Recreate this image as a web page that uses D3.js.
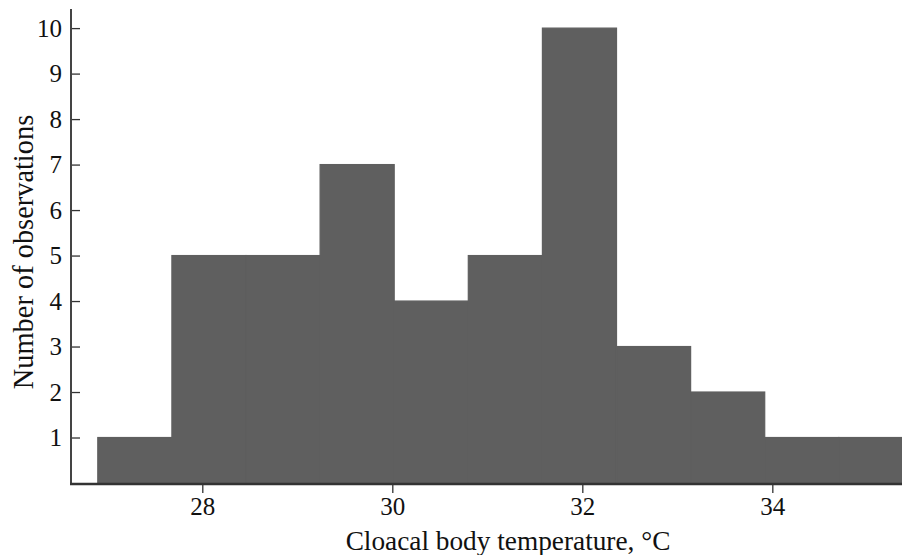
<!DOCTYPE html>
<html><head><meta charset="utf-8">
<script src="https://cdn.jsdelivr.net/npm/d3@7"></script>
<style>body{margin:0;background:#fff}svg{display:block}</style>
</head><body>
<script>
const binEdges = [26.9, 27.68, 28.46, 29.24, 30.02, 30.8, 31.58, 32.36, 33.14, 33.92, 34.7, 35.48];
const counts = [1, 5, 5, 7, 4, 5, 10, 3, 2, 1, 1];
const xTicks = [28, 30, 32, 34];
const yTicks = [1, 2, 3, 4, 5, 6, 7, 8, 9, 10];
const xLabel = "Cloacal body temperature, °C";
const yLabel = "Number of observations";

const W = 902, H = 555;
const svg = d3.select("body").append("svg").attr("width", W).attr("height", H);
const x = d3.scaleLinear().domain([26.618, 35.365]).range([71, 902]);
const y = d3.scaleLinear().domain([0, 10.42]).range([483, 9]);
const font = "'Liberation Serif','Times New Roman',serif";

const bins = counts.map((c, i) => ({x0: binEdges[i], x1: binEdges[i + 1], c}));
svg.append("g").selectAll("rect").data(bins).join("rect")
  .attr("x", d => x(d.x0)).attr("width", d => x(d.x1) - x(d.x0))
  .attr("y", d => y(d.c)).attr("height", d => y(0) - y(d.c))
  .attr("fill", "#5f5f5f").attr("stroke", "#5f5f5f").attr("stroke-width", 1.2);

// y axis
const ya = svg.append("g").attr("transform", "translate(71,0)")
  .call(d3.axisRight(y).tickValues(yTicks).tickSize(9).tickFormat(d3.format("d")));
ya.select(".domain").remove();
ya.selectAll(".tick line").attr("stroke", "#333").attr("stroke-width", 1.3);
ya.selectAll(".tick text").attr("x", -9).attr("text-anchor", "end")
  .attr("font-family", font).attr("font-size", 25).attr("fill", "#111");
svg.append("line").attr("x1", 71).attr("x2", 71).attr("y1", y(10.42)).attr("y2", y(0) + 1)
  .attr("stroke", "#444").attr("stroke-width", 2);

// x axis
const xa = svg.append("g").attr("transform", "translate(0,483)")
  .call(d3.axisBottom(x).tickValues(xTicks).tickSize(10).tickFormat(d3.format("d")));
xa.select(".domain").remove();
xa.selectAll(".tick line").attr("stroke", "#333").attr("stroke-width", 1.3);
xa.selectAll(".tick text").attr("y", 14).attr("dy", "0.71em")
  .attr("font-family", font).attr("font-size", 25).attr("fill", "#111");
svg.append("line").attr("x1", 70).attr("x2", 902).attr("y1", y(0) + 1).attr("y2", y(0) + 1)
  .attr("stroke", "#333").attr("stroke-width", 2.5);

svg.append("text").attr("x", 508).attr("y", 550).attr("text-anchor", "middle")
  .attr("font-family", font).attr("font-size", 27.3).attr("fill", "#111").text(xLabel);
svg.append("text").attr("transform", "translate(33,252) rotate(-90)").attr("text-anchor", "middle")
  .attr("font-family", font).attr("font-size", 28.4).attr("fill", "#111").text(yLabel);
</script>
</body></html>
